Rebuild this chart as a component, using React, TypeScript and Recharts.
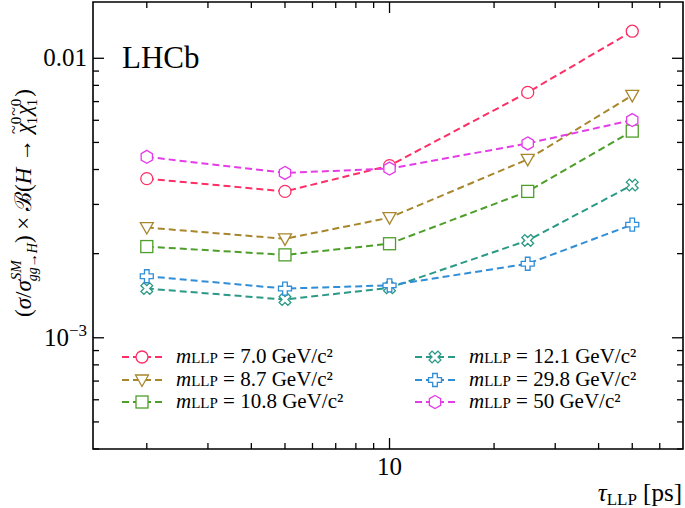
import { LineChart, Line, XAxis, YAxis, Legend, ReferenceArea } from "recharts";

const TAU = [2, 5, 10, 25, 50];

const M70 = [3.71e-3, 3.34e-3, 4.13e-3, 7.55e-3, 1.25e-2];
const M87 = [2.48e-3, 2.26e-3, 2.69e-3, 4.35e-3, 7.37e-3];
const M108 = [2.12e-3, 1.98e-3, 2.17e-3, 3.34e-3, 5.49e-3];
const M121 = [1.5e-3, 1.37e-3, 1.51e-3, 2.23e-3, 3.52e-3];
const M298 = [1.66e-3, 1.5e-3, 1.54e-3, 1.84e-3, 2.54e-3];
const M50 = [4.44e-3, 3.89e-3, 4.03e-3, 4.96e-3, 6.01e-3];

const MASSES = ["7.0", "8.7", "10.8", "12.1", "29.8", "50"];

const X_TICKS = [2, 3, 4, 5, 6, 7, 8, 9, 10, 20, 30, 40, 50, 60];
const Y_TICKS = [
  4e-4, 5e-4, 6e-4, 7e-4, 8e-4, 9e-4, 1e-3,
  2e-3, 3e-3, 4e-3, 5e-3, 6e-3, 7e-3, 8e-3, 9e-3, 1e-2,
];
const X_DOMAIN = [1.4, 70];
const Y_DOMAIN = [4e-4, 0.0159];

const W = 685;
const H = 508;
const M = { top: 2, right: 2, left: 0, bottom: 0 };
const Y_W = 93;
const X_H = 59;
const PLOT_W = W - Y_W - M.right;
const PLOT_H = H - M.top - X_H;
const FONT = "'Liberation Serif', 'DejaVu Serif', serif";

const SERIES = [
  { key: "m70", values: M70, mass: MASSES[0], color: "#fd2f66", shape: "circle" },
  { key: "m87", values: M87, mass: MASSES[1], color: "#a8862c", shape: "triangle" },
  { key: "m108", values: M108, mass: MASSES[2], color: "#4e9e2a", shape: "square" },
  { key: "m121", values: M121, mass: MASSES[3], color: "#2a9985", shape: "x" },
  { key: "m298", values: M298, mass: MASSES[4], color: "#2f8ed6", shape: "plus" },
  { key: "m50", values: M50, mass: MASSES[5], color: "#e43de8", shape: "hexagon" },
];

const data = TAU.map((t, i) => {
  const row: Record<string, number> = { tau: t };
  SERIES.forEach((s) => (row[s.key] = s.values[i]));
  return row;
});

const isMajor = (v: number) => {
  const l = Math.log10(v);
  return Math.abs(l - Math.round(l)) < 1e-9;
};

function crossPoints(w: number, L: number) {
  return [
    [-w, -L], [w, -L], [w, -w], [L, -w], [L, w], [w, w],
    [w, L], [-w, L], [-w, w], [-L, w], [-L, -w], [-w, -w],
  ]
    .map((p) => p.join(","))
    .join(" ");
}

function Marker({ shape, color, cx, cy }: { shape: string; color: string; cx: number; cy: number }) {
  const common = { fill: "#fff", stroke: color, strokeWidth: 1.3 };
  if (shape === "circle") return <circle cx={cx} cy={cy} r={6} {...common} />;
  if (shape === "square")
    return <rect x={cx - 6} y={cy - 6} width={12} height={12} {...common} />;
  if (shape === "triangle")
    return (
      <polygon
        points={`${cx - 6.5},${cy - 5} ${cx + 6.5},${cy - 5} ${cx},${cy + 6.5}`}
        {...common}
      />
    );
  if (shape === "hexagon") {
    const pts = [-90, -30, 30, 90, 150, 210]
      .map((a) => {
        const r = (a * Math.PI) / 180;
        return `${cx + 6.5 * Math.cos(r)},${cy + 6.5 * Math.sin(r)}`;
      })
      .join(" ");
    return <polygon points={pts} {...common} />;
  }
  if (shape === "x")
    return (
      <polygon
        points={crossPoints(2.1, 6.2)}
        transform={`translate(${cx},${cy}) rotate(45)`}
        {...common}
      />
    );
  return (
    <polygon points={crossPoints(2.3, 6.5)} transform={`translate(${cx},${cy})`} {...common} />
  );
}

const makeDot = (s: (typeof SERIES)[number]) => (props: any) => {
  const { cx, cy, index } = props;
  if (cx == null || cy == null) return <g key={index} />;
  return (
    <g key={index}>
      <Marker shape={s.shape} color={s.color} cx={cx} cy={cy} />
    </g>
  );
};

function XTick(props: any) {
  const { x, y, payload } = props;
  const major = isMajor(payload.value);
  const len = major ? 11 : 6;
  return (
    <g>
      <line x1={x} y1={y} x2={x} y2={y - len} stroke="#000" strokeWidth={1.3} />
      <line x1={x} y1={y - PLOT_H} x2={x} y2={y - PLOT_H + len} stroke="#000" strokeWidth={1.3} />
      {major && (
        <text x={x} y={y + 26} textAnchor="middle" fontSize={25} fontFamily={FONT} fill="#000">
          {payload.value}
        </text>
      )}
    </g>
  );
}

function YTick(props: any) {
  const { x, y, payload } = props;
  const v = payload.value;
  const major = isMajor(v);
  const len = major ? 11 : 6;
  const exp = Math.round(Math.log10(v));
  return (
    <g>
      <line x1={x} y1={y} x2={x + len} y2={y} stroke="#000" strokeWidth={1.3} />
      <line x1={x + PLOT_W} y1={y} x2={x + PLOT_W - len} y2={y} stroke="#000" strokeWidth={1.3} />
      {major && (
        <text x={x - 6} y={y + 8} textAnchor="end" fontSize={25} fontFamily={FONT} fill="#000">
          {exp === -2 ? (
            "0.01"
          ) : (
            <>
              <tspan>10</tspan>
              <tspan fontSize={17} dy={-10}>
                {"\u2212"}
                {-exp}
              </tspan>
            </>
          )}
        </text>
      )}
    </g>
  );
}

// chi with a tilde, then stacked 0 (sup) and 1 (sub); ends back on the baseline
function Chi() {
  return (
    <>
      <tspan fontStyle="italic">χ</tspan>
      <tspan fontSize={16} dx={-11} dy={-12}>~</tspan>
      <tspan fontSize={15} dx={1} dy={2}>0</tspan>
      <tspan fontSize={15} dx={-7.5} dy={16}>1</tspan>
      <tspan dy={-6}>{"\u200a"}</tspan>
    </>
  );
}

function YLabel() {
  return (
    <text
      x={31}
      y={203}
      transform="rotate(-90 31 203)"
      textAnchor="middle"
      fontSize={23}
      fontFamily={FONT}
      fill="#000"
    >
      <tspan>(</tspan>
      <tspan fontStyle="italic">σ</tspan>
      <tspan>/</tspan>
      <tspan fontStyle="italic">σ</tspan>
      <tspan fontSize={15} fontStyle="italic" dy={-10}>SM</tspan>
      <tspan fontSize={14} fontStyle="italic" dx={-21} dy={16}>gg→H</tspan>
      <tspan dy={-6}>{") \u00d7 "}</tspan>
      <tspan>ℬ(</tspan>
      <tspan fontStyle="italic">H</tspan>
      <tspan>{" → "}</tspan>
      <Chi />
      <Chi />
      <tspan>)</tspan>
    </text>
  );
}

function XLabel() {
  return (
    <text x={682} y={501} textAnchor="end" fontSize={25} fontFamily={FONT} fill="#000">
      <tspan fontStyle="italic">τ</tspan>
      <tspan fontSize={17} dy={4}>LLP</tspan>
      <tspan dy={-4}>{" [ps]"}</tspan>
    </text>
  );
}

function LegendBox() {
  return (
    <div
      style={{
        display: "grid",
        gridTemplateRows: "repeat(3, 22.5px)",
        gridTemplateColumns: "293px 267px",
        gridAutoFlow: "column",
        fontFamily: FONT,
        fontSize: 21,
        lineHeight: "18px",
        color: "#000",
      }}
    >
      {SERIES.map((s) => (
        <div key={s.key} style={{ display: "flex", alignItems: "center", whiteSpace: "nowrap" }}>
          <svg width={44} height={20} style={{ flex: "none" }}>
            <line
              x1={2}
              y1={10}
              x2={42}
              y2={10}
              stroke={s.color}
              strokeWidth={2}
              strokeDasharray="7 4"
            />
            <Marker shape={s.shape} color={s.color} cx={22} cy={10} />
          </svg>
          <span style={{ marginLeft: 12 }}>
            <i>m</i>
            <span style={{ fontSize: 15 }}>LLP</span> = {s.mass} GeV/c²
          </span>
        </div>
      ))}
    </div>
  );
}

export default function App() {
  return (
    <div style={{ position: "absolute", left: 0, top: 0, width: W, height: H, background: "#fff" }}>
      <LineChart width={W} height={H} data={data} margin={M}>
        <XAxis
          dataKey="tau"
          type="number"
          scale="log"
          domain={X_DOMAIN}
          ticks={X_TICKS}
          interval={0}
          allowDataOverflow
          tickSize={0}
          tickMargin={0}
          tickLine={false}
          axisLine={false}
          height={X_H}
          tick={<XTick />}
          label={{ content: <XLabel /> }}
        />
        <YAxis
          type="number"
          scale="log"
          domain={Y_DOMAIN}
          ticks={Y_TICKS}
          interval={0}
          allowDataOverflow
          tickSize={0}
          tickMargin={0}
          tickLine={false}
          axisLine={false}
          width={Y_W}
          tick={<YTick />}
          label={{ content: <YLabel /> }}
        />
        <ReferenceArea
          x1={X_DOMAIN[0]}
          x2={X_DOMAIN[1]}
          y1={Y_DOMAIN[0]}
          y2={Y_DOMAIN[1]}
          fill="none"
          stroke="#000"
          strokeWidth={1.6}
          ifOverflow="visible"
        />
        {SERIES.map((s) => (
          <Line
            key={s.key}
            dataKey={s.key}
            name={s.mass}
            stroke={s.color}
            strokeWidth={2}
            strokeDasharray="7 4"
            dot={makeDot(s)}
            activeDot={false}
            isAnimationActive={false}
          />
        ))}
        <Legend
          layout="horizontal"
          verticalAlign="middle"
          align="center"
          content={<LegendBox />}
          wrapperStyle={{ left: 120, top: 346, width: 565, height: 70 }}
        />
        <text x={122} y={68} fontSize={31} fontFamily={FONT} fill="#000">
          LHCb
        </text>
      </LineChart>
    </div>
  );
}
